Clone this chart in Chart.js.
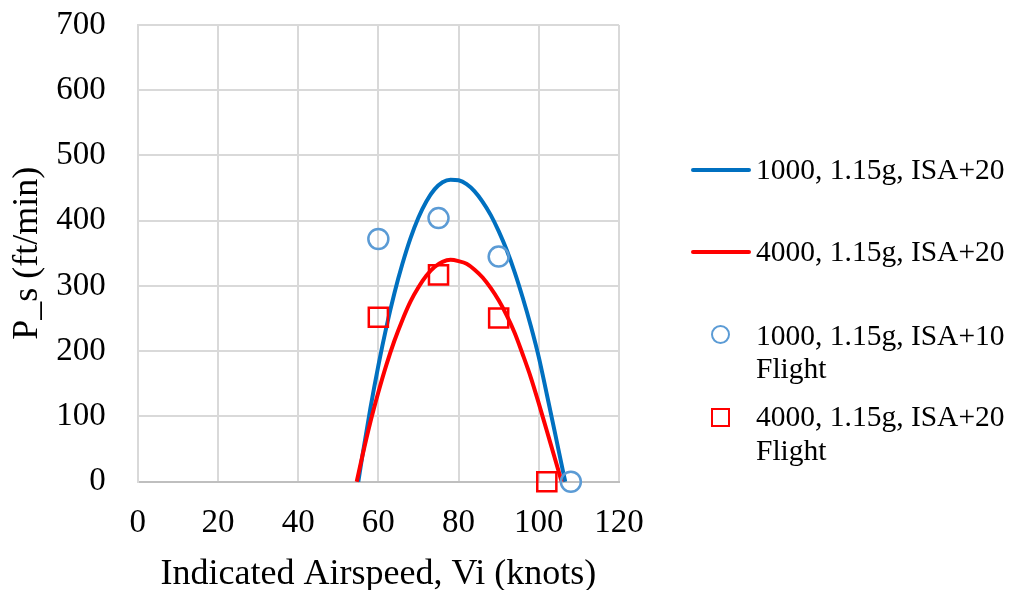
<!DOCTYPE html>
<html>
<head>
<meta charset="utf-8">
<title>Specific excess power vs indicated airspeed</title>
<script src="https://cdn.jsdelivr.net/npm/chart.js@4.4.1/dist/chart.umd.min.js"></script>
<style>
  html, body { margin: 0; padding: 0; background: #ffffff; }
  #wrap { position: relative; width: 1009px; height: 590px; overflow: hidden; }
  #chart { position: absolute; left: 0; top: 0; }
  .lg-text {
    position: absolute;
    font-family: "Liberation Serif", "Times New Roman", serif;
    font-size: 29.5px;
    line-height: 33.5px;
    color: #000000;
    white-space: nowrap;
  }
  .lg-swatch { position: absolute; box-sizing: border-box; }
</style>
</head>
<body>
<div id="wrap">
  <canvas id="chart" width="1009" height="590"></canvas>
</div>
<script>
// Axis ticks
const xTickValues = [0, 20, 40, 60, 80, 100, 120];
const yTickValues = [0, 100, 200, 300, 400, 500, 600, 700];

// Series names
const seriesLabels = [
  ["1000, 1.15g, ISA+20"],
  ["4000, 1.15g, ISA+20"],
  ["1000, 1.15g, ISA+10", "Flight"],
  ["4000, 1.15g, ISA+20", "Flight"]
];

// Predicted curve, 1000 ft, 1.15g, ISA+20
const curve1000X = [55, 56, 58, 60, 62, 64, 66, 68, 70, 72, 74, 76, 78, 80, 82, 84, 86, 88, 90, 92, 94, 96, 98, 100, 102, 104, 106, 106.6];
const curve1000Y = [0, 39, 112, 178, 237, 289, 334, 373, 405, 430, 448, 459, 463, 462, 456, 445, 429, 409, 384, 355, 321, 282, 239, 191, 134, 76, 17, 0];

// Predicted curve, 4000 ft, 1.15g, ISA+20
const curve4000X = [54.6, 56, 58, 60, 62, 64, 66, 68, 70, 72, 74, 76, 78, 80, 82, 84, 86, 88, 90, 92, 94, 96, 98, 100, 102, 104, 105.7];
const curve4000Y = [0, 39, 91, 137, 179, 216, 248, 276, 298, 316, 329, 337, 340, 338, 334, 325, 313, 297, 278, 255, 228, 195, 160, 120, 78, 36, 0];

// Flight test points
const flight1000X = [60, 75, 90, 108];
const flight1000Y = [372, 404, 345, 0];
const flight4000X = [60, 75, 90, 102];
const flight4000Y = [252, 317, 251, 0];

const toPoints = (xs, ys) => xs.map((x, i) => ({ x: x, y: ys[i] }));

const FONT = "'Liberation Serif', 'Times New Roman', serif";
const BLUE = "#0070C0";
const RED = "#FF0000";
const LIGHT_BLUE = "#5B9BD5";
const GRID = "#D9D9D9";
const AXIS = "#BFBFBF";

const datasets = [
  {
    label: seriesLabels[3].join(" "),
    data: toPoints(flight4000X, flight4000Y),
    showLine: false,
    pointStyle: "rect",
    pointRadius: 13.5,
    pointBorderWidth: 2.5,
    pointBorderColor: RED,
    pointBackgroundColor: "rgba(0,0,0,0)",
    order: 0,
    clip: false
  },
  {
    label: seriesLabels[2].join(" "),
    data: toPoints(flight1000X, flight1000Y),
    showLine: false,
    pointStyle: "circle",
    pointRadius: 10,
    pointBorderWidth: 2.5,
    pointBorderColor: LIGHT_BLUE,
    pointBackgroundColor: "rgba(0,0,0,0)",
    order: 1,
    clip: false
  },
  {
    label: seriesLabels[1].join(" "),
    data: toPoints(curve4000X, curve4000Y),
    showLine: true,
    borderColor: RED,
    borderWidth: 4,
    pointRadius: 0,
    cubicInterpolationMode: "monotone",
    order: 2,
    clip: false
  },
  {
    label: seriesLabels[0].join(" "),
    data: toPoints(curve1000X, curve1000Y),
    showLine: true,
    borderColor: BLUE,
    borderWidth: 4,
    pointRadius: 0,
    cubicInterpolationMode: "monotone",
    order: 3,
    clip: false
  }
];

new Chart(document.getElementById("chart"), {
  type: "scatter",
  data: { datasets: datasets },
  options: {
    responsive: false,
    animation: false,
    devicePixelRatio: 1,
    layout: { padding: { left: 0, top: 25, right: 390, bottom: 0 } },
    plugins: {
      legend: { display: false },
      tooltip: { enabled: false }
    },
    scales: {
      x: {
        type: "linear",
        position: "bottom",
        min: 0,
        max: 120,
        afterBuildTicks: (s) => { s.ticks = xTickValues.map(v => ({ value: v })); },
        afterFit: (s) => {
          s.height = 108.3;
          s.paddingLeft = 0; s.paddingRight = 0; s.paddingTop = 0; s.paddingBottom = 0;
        },
        grid: { color: GRID, lineWidth: 2, drawTicks: false },
        border: { color: AXIS, width: 2 },
        ticks: {
          font: { family: FONT, size: 33 },
          color: "#000000",
          padding: 22,
          maxRotation: 0
        },
        title: {
          display: true,
          text: "Indicated Airspeed, Vi (knots)",
          font: { family: FONT, size: 36, lineHeight: 0.85 },
          color: "#000000",
          padding: { top: 0, bottom: 0 }
        }
      },
      y: {
        type: "linear",
        min: 0,
        max: 700,
        afterBuildTicks: (s) => { s.ticks = yTickValues.map(v => ({ value: v })); },
        afterFit: (s) => {
          s.width = 137.7;
          s.paddingLeft = 0; s.paddingRight = 0; s.paddingTop = 0; s.paddingBottom = 0;
        },
        grid: {
          color: (c) => (c.tick && c.tick.value === 0 ? AXIS : GRID),
          lineWidth: 2,
          drawTicks: false
        },
        border: { color: GRID, width: 2 },
        ticks: {
          font: { family: FONT, size: 33 },
          color: "#000000",
          padding: 32
        },
        title: {
          display: true,
          text: "P_s (ft/min)",
          font: { family: FONT, size: 36, lineHeight: 1 },
          color: "#000000",
          padding: { top: 10, bottom: 0 }
        }
      }
    }
  }
});

// Legend on the right
const wrap = document.getElementById("wrap");
const legendRows = [
  { kind: "line", color: BLUE, cy: 169.5, textCenter: 170, lines: seriesLabels[0] },
  { kind: "line", color: RED, cy: 251.5, textCenter: 252, lines: seriesLabels[1] },
  { kind: "circle", color: LIGHT_BLUE, cy: 334.5, textCenter: 335.5, lines: seriesLabels[2] },
  { kind: "rect", color: RED, cy: 417, textCenter: 417, lines: seriesLabels[3] }
];
legendRows.forEach(row => {
  const sw = document.createElement("div");
  sw.className = "lg-swatch";
  if (row.kind === "line") {
    sw.style.left = "691px";
    sw.style.width = "60px";
    sw.style.height = "4px";
    sw.style.top = (row.cy - 2) + "px";
    sw.style.background = row.color;
    sw.style.borderRadius = "2px";
  } else {
    sw.style.left = "711.3px";
    sw.style.width = "19px";
    sw.style.height = "19px";
    sw.style.top = (row.cy - 9.5) + "px";
    sw.style.border = "2.5px solid " + row.color;
    if (row.kind === "circle") sw.style.borderRadius = "50%";
  }
  wrap.appendChild(sw);

  const tx = document.createElement("div");
  tx.className = "lg-text";
  tx.style.left = "756px";
  tx.style.top = (row.textCenter - 16.75) + "px";
  tx.innerHTML = row.lines.join("<br>");
  wrap.appendChild(tx);
});
</script>
</body>
</html>
